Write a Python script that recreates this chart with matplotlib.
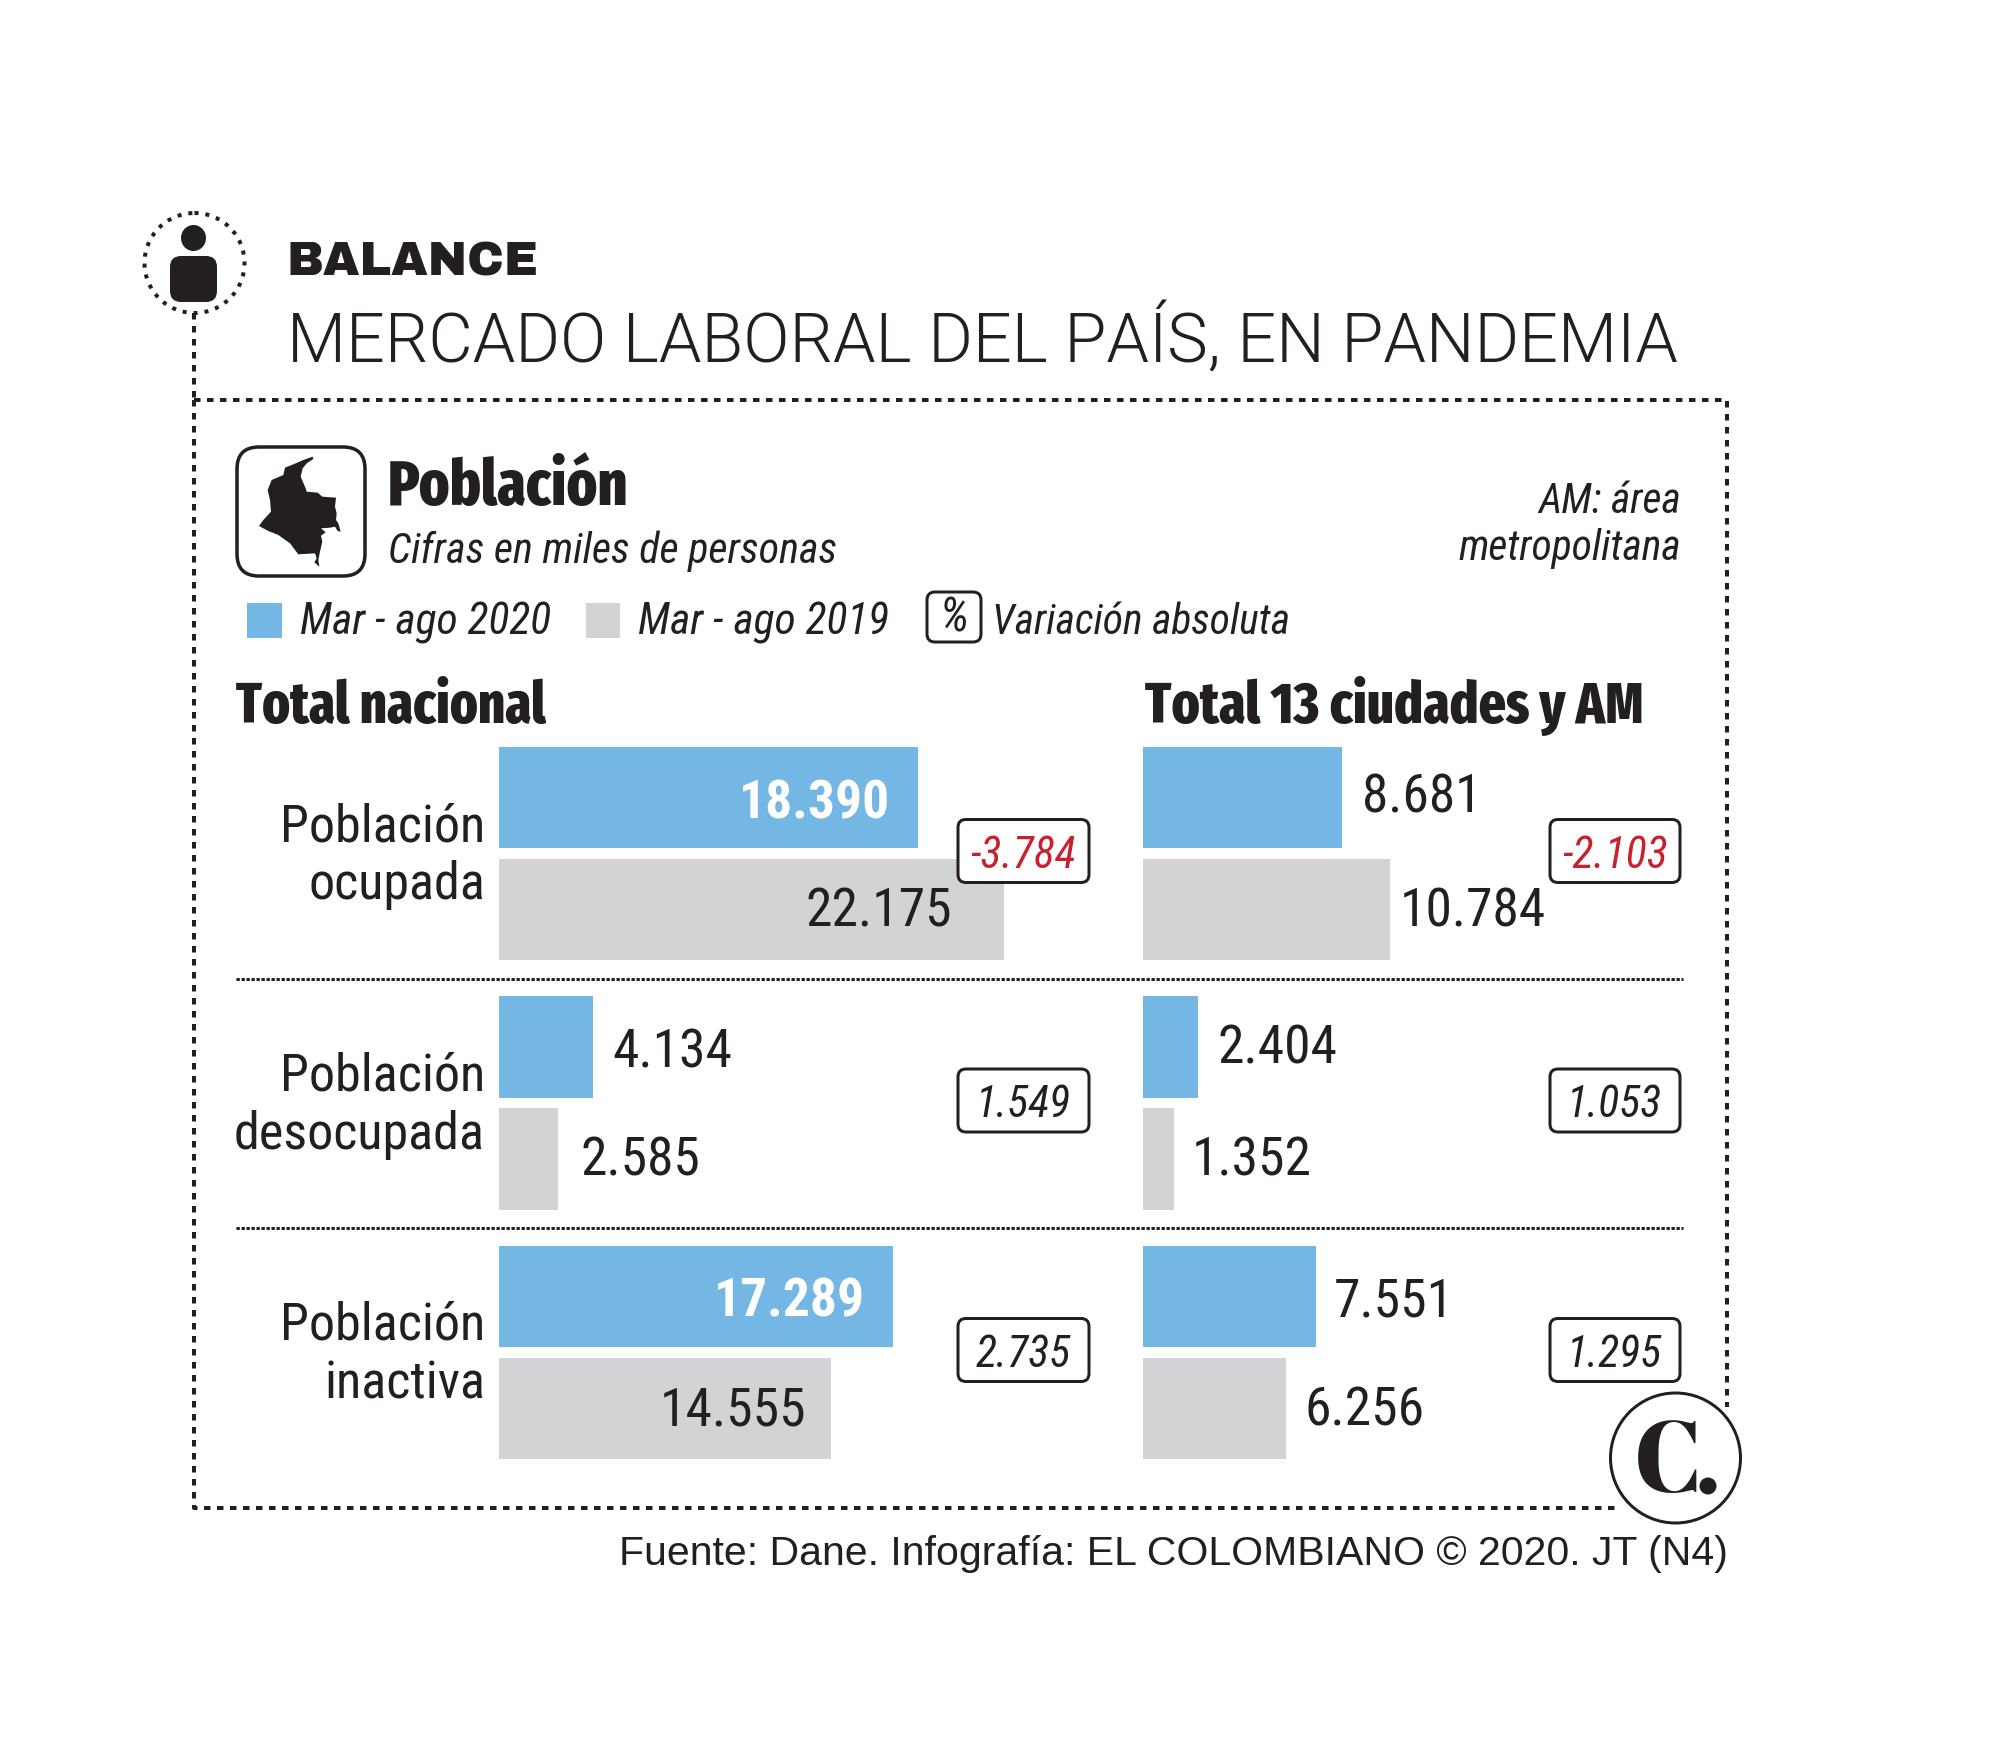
import matplotlib
matplotlib.use("Agg")
import matplotlib.pyplot as plt
from matplotlib.patches import Circle, Ellipse, FancyBboxPatch, Polygon

plt.rcParams['lines.scale_dashes'] = False

# Data
categories = ['Población\nocupada', 'Población\ndesocupada', 'Población\ninactiva']
nacional_2020 = [18390, 4134, 17289]
nacional_2019 = [22175, 2585, 14555]
ciudades_2020 = [8681, 2404, 7551]
ciudades_2019 = [10784, 1352, 6256]
nacional_var = ['-3.784', '1.549', '2.735']
ciudades_var = ['-2.103', '1.053', '1.295']

# Colors
blue = '#74b7e5'
gray = '#d1d3d4'
ink = '#231f20'
red = '#c8202f'

narrow = ['Roboto Condensed', 'Liberation Sans']
heavy = ['Fira Sans Extra Condensed', 'Roboto Condensed', 'Liberation Sans']
wide_black = ['Archivo Black', 'DejaVu Sans']
light = ['Roboto', 'Liberation Sans']
sans = ['Liberation Sans']
didone = ['Abril Fatface', 'Liberation Serif']

W, H = 2000, 1762
fig = plt.figure(figsize=(W / 100, H / 100), dpi=100, facecolor='white')

# overlay in pixels for the layout parts, sits above the bars
bg = fig.add_axes([0, 0, 1, 1])
bg.set_xlim(0, W)
bg.set_ylim(H, 0)
bg.axis('off')
bg.set_zorder(2)


def px(v):
    return v * 0.72


def dotted(xs, ys, on=6.5, off=6.5, lw=4):
    bg.plot(xs, ys, color=ink, lw=px(lw), ls=(0, (px(on), px(off))), dash_capstyle='butt')


def rbox(x0, y0, x1, y1, r=8, lw=3):
    bg.add_patch(FancyBboxPatch((x0 + r, y0 + r), x1 - x0 - 2 * r, y1 - y0 - 2 * r,
                                boxstyle='round,pad=%d,rounding_size=%d' % (r, r),
                                fc='white', ec=ink, lw=px(lw)))


# frame and icon at the top
dotted([194, 194], [313, 400])
dotted([194, 1727, 1727], [400, 400, 1407])
dotted([194, 194, 1618], [400, 1508, 1508])
bg.add_patch(Circle((194.5, 263), 50, fc='none', ec=ink, lw=px(4), ls=(0, (px(4), px(7)))))
bg.add_patch(Ellipse((193.5, 238), 25, 26, fc=ink, ec='none'))
bg.add_patch(FancyBboxPatch((182, 268), 23, 22, boxstyle='round,pad=12,rounding_size=11', fc=ink, ec='none'))

# headings
bg.text(287, 276, 'BALANCE', family=wide_black, fontsize=34, color=ink)
bg.text(287, 362, 'MERCADO LABORAL DEL PAÍS, EN PANDEMIA', family=light, weight=300, fontsize=49.15, color=ink)

# map icon
rbox(237, 447, 365, 576, r=22, lw=3.5)
colombia_crop = [(233, 35), (235, 42), (215, 55), (203, 70), (197, 95), (212, 130), (215, 140), (248, 143),
                 (262, 155), (303, 158), (300, 185), (305, 205), (303, 225), (310, 235), (317, 260), (308, 258),
                 (300, 245), (285, 248), (258, 250), (272, 262), (258, 272), (262, 290), (255, 320), (250, 345),
                 (253, 365), (238, 352), (245, 340), (240, 325), (190, 328), (165, 295), (130, 270), (100, 258),
                 (72, 243), (85, 225), (108, 200), (105, 165), (98, 135), (110, 105), (145, 90), (150, 68),
                 (175, 58), (205, 45)]
bg.add_patch(Polygon([(235 + x / 3, 445 + y / 3) for x, y in colombia_crop], closed=True, fc=ink, ec='none'))
bg.text(388, 505, 'Población', family=heavy, weight=800, fontsize=45, color=ink)
bg.text(388, 563, 'Cifras en miles de personas', family=narrow, style='italic', fontsize=30.3, color=ink)
bg.text(1681, 513, 'AM: área', family=narrow, style='italic', fontsize=30, color=ink, ha='right')
bg.text(1681, 560, 'metropolitana', family=narrow, style='italic', fontsize=30, color=ink, ha='right')

# legend
bg.add_patch(plt.Rectangle((247, 603), 35, 35, fc=blue, ec='none'))
bg.add_patch(plt.Rectangle((586, 603), 34, 35, fc=gray, ec='none'))
bg.text(300, 634, 'Mar - ago 2020', family=narrow, style='italic', fontsize=31.4, color=ink)
bg.text(638, 634, 'Mar - ago 2019', family=narrow, style='italic', fontsize=31.4, color=ink)
rbox(927, 592, 981, 642, r=8)
bg.text(954, 632, '%', family=narrow, style='italic', fontsize=34, color=ink, ha='center')
bg.text(992, 634, 'Variación absoluta', family=narrow, style='italic', fontsize=30, color=ink)

# column titles
bg.text(236, 723, 'Total nacional', family=heavy, weight=800, fontsize=41, color=ink)
bg.text(1145, 723, 'Total 13 ciudades y AM', family=heavy, weight=800, fontsize=41.5, color=ink)

# separators
for y in [978.5, 1227.5]:
    bg.plot([236, 1683], [y, y], color=ink, lw=px(3), ls=(0, (px(3.3), px(1.7))))

# row labels
row_centers = [853.5, 1103, 1352.5]
for label, yc in zip(categories, row_centers):
    top, bottom = label.split('\n')
    bg.text(485, yc - 12.5, top, family=narrow, fontsize=37.5, color=ink, ha='right')
    bg.text(485, yc + 46, bottom, family=narrow, fontsize=37.5, color=ink, ha='right')

# variation boxes
for x0, x1, values in [(958, 1089, nacional_var), (1550, 1680, ciudades_var)]:
    for value, yc in zip(values, row_centers):
        rbox(x0, yc - 34, x1, yc + 29, r=8)
        bg.text((x0 + x1) / 2, yc + 2, value, family=narrow, style='italic', fontsize=31.5,
                color=red if value.startswith('-') else ink, ha='center', va='center')

# bars, one scale per panel
bar_h = 101.5 / 249.5
shift = 56 / 249.5


def panel(left, unit, values_2020, values_2019, placements):
    top_px = row_centers[0] - 124.75
    bottom_px = row_centers[-1] + 124.75
    width_px = 520
    ax = fig.add_axes([left / W, 1 - bottom_px / H, width_px / W, (bottom_px - top_px) / H])
    ax.set_xlim(0, width_px / unit)
    ax.set_ylim(2.5, -0.5)
    ax.axis('off')
    ax.set_zorder(1)
    rows = range(len(values_2020))
    ax.barh([r - shift for r in rows], values_2020, height=bar_h, color=blue)
    ax.barh([r + shift for r in rows], values_2019, height=bar_h, color=gray)
    for r in rows:
        for value, y, (off, dy, inside) in zip((values_2020[r], values_2019[r]), (r - shift, r + shift), placements[r]):
            text = f'{value:,}'.replace(',', '.')
            is_white = inside and value in values_2020
            ax.annotate(text, (value, y), xytext=(px(off), px(dy)), textcoords='offset points',
                        ha='right' if inside else 'left', va='center_baseline', family=narrow,
                        weight='bold' if is_white else 'normal', fontsize=38.5,
                        color='white' if is_white else ink)


# label offsets from the bar end in pixels (x, up), and if the label sits inside the bar
panel(499, 0.02278, nacional_2020, nacional_2019,
      [[(-28, -1, True), (-52, 3, True)], [(19, 0, False), (23, 3, False)], [(-28, 0, True), (-24, 3, True)]])
panel(1143, 0.02291, ciudades_2020, ciudades_2019,
      [[(20, 5, False), (10, 3, False)], [(19, 3, False), (18, 3, False)], [(18, 0, False), (18, 3, False)]])

# logo
bg.add_patch(Circle((1675.5, 1458), 65, fc='white', ec=ink, lw=px(3), zorder=5))
bg.text(1668.5, 1492, 'C', family=didone, fontsize=72, color=ink, ha='center', zorder=6)
bg.add_patch(Circle((1708, 1486), 8.5, fc=ink, ec='none', zorder=6))

# source
bg.text(1728, 1565, 'Fuente: Dane. Infografía: EL COLOMBIANO © 2020. JT (N4)', family=sans,
        fontsize=29.5, color=ink, ha='right')

fig.savefig('out.png', dpi=100)
